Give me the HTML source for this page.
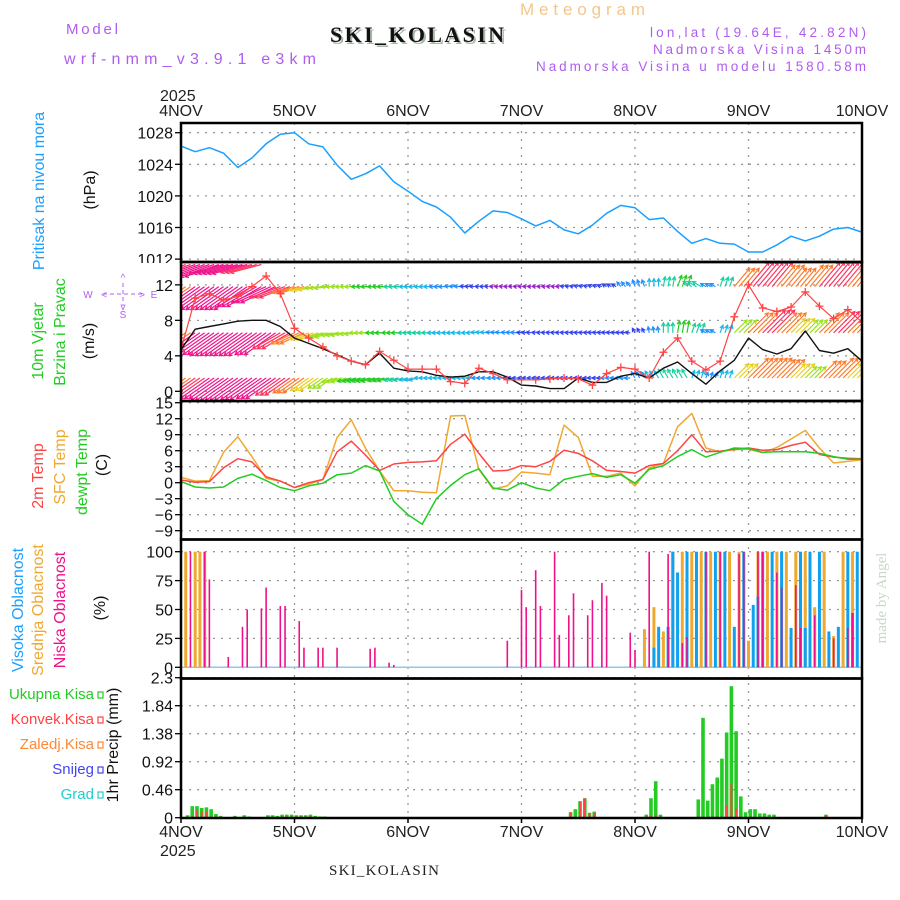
<!DOCTYPE html>
<html><head><meta charset="utf-8"><title>Meteogram SKI_KOLASIN</title>
<style>
html,body{margin:0;padding:0;background:#fff;}
svg{display:block;font-family:"Liberation Sans",sans-serif;}
</style></head>
<body>
<svg id="chart" width="900" height="900" viewBox="0 0 900 900" xmlns="http://www.w3.org/2000/svg">
<defs>
<clipPath id="cp1"><rect x="181" y="123" width="681" height="139"/></clipPath>
<clipPath id="cp2"><rect x="181" y="263" width="681" height="137"/></clipPath>
<clipPath id="cp3"><rect x="181" y="402" width="681" height="137"/></clipPath>
<clipPath id="cp4"><rect x="181" y="540" width="681" height="138"/></clipPath>
<clipPath id="cp5"><rect x="181" y="679" width="681" height="139"/></clipPath>
</defs>
<g id="header">
<text x="66" y="34" font-size="15" fill="#b05cf0" textLength="52">Model</text>
<text x="64" y="64" font-size="16" fill="#b05cf0" textLength="252">wrf-nmm_v3.9.1 e3km</text>
<text x="332" y="44" font-family="Liberation Serif,serif" font-weight="bold" font-size="22" fill="#aab8aa" textLength="174">SKI_KOLASIN</text>
<text x="330" y="42" font-family="Liberation Serif,serif" font-weight="bold" font-size="22" fill="#111" textLength="174">SKI_KOLASIN</text>
<text x="520" y="15" font-size="17" fill="#f2c88a" textLength="125">Meteogram</text>
<text x="650" y="37" font-size="13.5" fill="#b05cf0" textLength="216">lon,lat (19.64E, 42.82N)</text>
<text x="653" y="54" font-size="13.5" fill="#b05cf0" textLength="213">Nadmorska Visina 1450m</text>
<text x="536" y="71" font-size="13.5" fill="#b05cf0" textLength="330">Nadmorska Visina u modelu 1580.58m</text>
<text x="160" y="101" font-size="16" fill="#222">2025</text>
<text x="160" y="856" font-size="16" fill="#222">2025</text>
<text x="329" y="875" font-family="Liberation Serif,serif" font-size="15" fill="#222" textLength="110">SKI_KOLASIN</text>
<text transform="translate(886,598) rotate(-90)" text-anchor="middle" font-family="Liberation Serif,serif" font-size="15" fill="#c8d8c8">made by Angel</text>
</g>
<g id="labels" font-size="16">
<text transform="translate(44,191) rotate(-90)" text-anchor="middle" fill="#1a9fff">Pritisak na nivou mora</text>
<text transform="translate(95,190) rotate(-90)" text-anchor="middle" fill="#111">(hPa)</text>
<text transform="translate(43,341) rotate(-90)" text-anchor="middle" fill="#22cc22">10m Vjetar</text>
<text transform="translate(65,332) rotate(-90)" text-anchor="middle" fill="#22cc22">Brzina i Pravac</text>
<text transform="translate(94,341) rotate(-90)" text-anchor="middle" fill="#111">(m/s)</text>
<g font-size="10" fill="#b05cf0" text-anchor="middle">
<text x="123" y="270">N</text><text x="123" y="318">S</text><text x="88" y="298">W</text><text x="154" y="298">E</text>
<text x="123" y="281">^</text><text x="123" y="310">v</text>
<line x1="103" y1="294" x2="143" y2="294" stroke="#b05cf0" stroke-dasharray="4,3"/>
<line x1="123" y1="283" x2="123" y2="306" stroke="#b05cf0" stroke-dasharray="4,3"/>
<text x="104" y="298">&lt;</text><text x="142" y="298">&gt;</text>
</g>
<text transform="translate(43,476) rotate(-90)" text-anchor="middle" fill="#ff4444">2m Temp</text>
<text transform="translate(65,467) rotate(-90)" text-anchor="middle" fill="#f0a830">SFC Temp</text>
<text transform="translate(87,472) rotate(-90)" text-anchor="middle" fill="#22cc22">dewpt Temp</text>
<text transform="translate(107,465) rotate(-90)" text-anchor="middle" fill="#111">(C)</text>
<text transform="translate(23,610) rotate(-90)" text-anchor="middle" fill="#1a9fff">Visoka Oblacnost</text>
<text transform="translate(43,610) rotate(-90)" text-anchor="middle" fill="#f0a830">Srednja Oblacnost</text>
<text transform="translate(65,610) rotate(-90)" text-anchor="middle" fill="#ee1188">Niska Oblacnost</text>
<text transform="translate(105,608) rotate(-90)" text-anchor="middle" fill="#111">(%)</text>
<text transform="translate(118,745) rotate(-90)" text-anchor="middle" fill="#111">1hr Precip (mm)</text>
<g text-anchor="end" font-size="15">
<text x="94" y="699" fill="#22cc22">Ukupna Kisa</text>
<text x="94" y="724" fill="#ff4444">Konvek.Kisa</text>
<text x="94" y="749" fill="#ff8833">Zaledj.Kisa</text>
<text x="94" y="774" fill="#4444ee">Snijeg</text>
<text x="94" y="799" fill="#22cccc">Grad</text>
</g>
</g>
<g id="grid"></g>
<g id="marks"></g>
<g id="frames"></g>
</svg>
<script>
// ---------- DATA ----------
const dayLabels = ["4NOV","5NOV","6NOV","7NOV","8NOV","9NOV","10NOV"];
const pressureTicks = [1012,1016,1020,1024,1028];
const windTicks = [0,4,8,12];
const tempTicks = [15,12,9,6,3,0,-3,-6,-9];
const tempTickLabels = ["15","12","9","6","3","0","\u22123","\u22126","\u22129"];
const cloudTicks = [0,25,50,75,100];
const precipTicks = [0,0.46,0.92,1.38,1.84,2.3];
const precipTickLabels = ["0","0.46","0.92","1.38","1.84","2.3"];
// 3-hourly series (hour = index*3)
const pressure = [1026.3,1025.6,1026.1,1025.4,1023.6,1024.8,1026.6,1027.8,1028,1026.6,1026.2,1023.9,1022.1,1022.8,1023.8,1021.8,1020.6,1019.3,1018.6,1017.3,1015.3,1016.8,1018.1,1017.9,1017.1,1016.2,1016.9,1015.7,1015.2,1016.3,1017.8,1018.8,1018.5,1017.0,1017.2,1015.5,1014.0,1014.6,1014.0,1013.9,1012.9,1012.9,1013.8,1014.9,1014.3,1014.9,1015.8,1016.0,1015.4];
const windSpeed = [4.7,7.0,7.3,7.6,7.9,8.0,8.0,7.3,6.0,5.4,4.8,4.1,3.4,3.0,4.3,2.6,2.3,2.2,1.8,1.6,1.7,2.2,2.2,1.6,0.7,0.6,0.3,0.3,1.5,1.0,1.0,1.7,2.0,1.5,2.6,3.3,2.0,0.8,2.3,3.5,6.0,4.7,4.2,4.8,6.8,4.6,4.3,4.8,3.4];
const windGust = [4.7,10.5,11.0,10.3,10.7,11.8,13.0,11.0,7.1,6.0,5.0,4.0,3.4,3.0,4.5,3.5,2.5,2.5,2.5,1.1,0.9,2.6,2.0,1.3,1.3,1.3,1.4,1.5,1.4,0.7,2.0,2.7,2.5,1.5,4.4,6.0,3.4,2.4,3.4,8.4,12.0,9.4,9.0,9.5,11.2,9.6,8.2,9.2,7.8];
const temp2m = [0.5,0.1,0.2,2.8,4.5,3.9,1.1,0.3,-0.9,0.0,0.6,5.8,7.8,5.2,2.3,3.5,3.8,3.9,4.1,7.2,9.1,5.5,2.2,2.3,3.2,3.0,4.0,6.1,5.5,4.1,2.3,2.1,1.8,3.2,3.6,6.0,9.0,5.8,5.9,6.3,6.5,6.1,6.2,7.0,7.6,5.3,4.8,4.6,4.5];
const tempSfc = [1.0,0.3,0.4,5.7,8.6,4.9,0.8,0.3,-0.9,-0.3,0.6,8.5,11.8,6.5,2.2,-1.5,-1.5,-1.8,-1.9,12.5,12.6,2.5,-1.2,-0.6,2.0,1.8,1.5,10.8,8.5,1.2,1.2,1.8,-0.6,2.8,3.6,10.5,13.0,6.5,5.8,6.2,6.3,5.6,6.6,8.2,9.8,6.5,3.7,4.0,4.3];
const tempDew = [0.2,-0.8,-1.0,-0.8,0.8,1.6,0.4,-0.9,-1.5,-0.6,-0.1,1.5,1.8,3.2,2.2,-3.5,-6.0,-7.8,-3.0,-0.5,1.5,2.6,-1.0,-1.4,0.0,-1.0,-1.5,0.6,1.2,1.7,1.0,1.5,-0.1,2.5,3.2,4.9,6.2,4.8,5.7,6.5,6.4,5.7,5.8,5.8,5.8,5.5,4.9,4.4,4.4];
// wind vectors per level (3-hourly): speed m/s and direction the wind blows TO (deg, 0=E, 90=N)
const lvl1Speed = [6,8,9,10,10,9.5,9,7.5,6.5,5.5,4.5,4,3.5,3.5,3,2.5,2.2,2,2,2,2,1.8,1.5,1.2,1,1,1,1.2,1.2,1.3,1.5,1.5,1.8,2,2.5,2.5,2,1.5,2,5,7,7,6.5,5,4,6,7,5,4.5];
const lvl1Dir = [215,215,215,215,215,215,215,215,215,215,215,195,195,195,195,195,195,180,180,180,180,180,180,180,180,180,180,180,180,180,180,180,120,120,120,120,70,70,70,45,45,45,45,45,45,45,45,45,45];
const lvl2Speed = [7,9,9.5,10,10,10,9.5,8,6.5,5,4.5,4,4,4,3.5,3,2.5,2.5,2.3,2.2,2,2,1.8,1.5,1.2,1,1,1,1.1,1.2,1.3,1.3,1.3,1.5,2.5,3,2.5,1.5,2,4.5,7,8,7,5,4.5,7,7.5,6,5];
const lvl2Dir = [215,215,215,215,215,215,215,210,205,200,195,190,185,180,180,180,180,180,180,180,180,175,175,175,175,175,175,175,175,175,175,175,120,100,90,80,70,150,70,45,45,45,45,45,45,45,45,45,45];
const lvl3Speed = [7,9,10,10,10,10,9.5,8,6,5,4.5,4,4,3.5,3,2.5,2.2,2,1.8,1.5,1.2,1,0.9,0.9,0.9,0.9,0.9,1,1.1,1.2,1.3,1.5,1.8,2,2.5,3,2.5,1.5,2.5,6,8,8,7,6,7,8,8,6,5];
const lvl3Dir = [215,215,215,215,215,210,205,200,195,190,185,180,180,180,180,180,180,180,180,175,175,175,175,175,175,175,175,170,165,160,150,130,110,90,80,70,150,150,70,50,50,50,50,50,50,50,50,50,50];
const lvl4Speed = [8,9,9,9,9,8];
const lvl4Dir = [200,200,200,195,195,195];
// hourly cloud bars [hour, %]
const cloudLowHours = [2,5,6,10,13,14,17,18,21,22,25,26,29,30,33,40,41,44,45,69,72,73,75,76,79,80,82,83,86,87,89,90,95,96,99,103,106,107,111,114,118,119,122,123,126,127,130,131,134,138,141,142];
const cloudLowVals  = [100,100,76,9,35,50,51,69,53,53,40,17,17,17,17,16,17,4,2,23,67,52,84,53,100,28,45,64,45,58,73,62,30,15,100,98,21,26,100,100,98,100,100,100,82,69,71,34,45,25,34,47];
const cloudMidHours = [1,3,4,5,98,100,102,104,106,108,110,112,114,116,118,120,122,124,126,128,130,132,134,136,138,140,142];
const cloudMidVals  = [100,100,100,100,33,52,31,100,100,100,100,100,100,100,100,23,100,100,100,100,100,100,52,100,27,100,100];
const cloudHighHours = [100,101,103,104,105,107,109,111,113,115,117,119,121,122,123,125,127,129,131,132,133,135,137,139,141,142,143];
const cloudHighVals  = [17,35,35,100,82,100,100,100,100,100,35,100,54,61,100,100,100,34,100,34,100,100,31,35,100,47,100];
// hourly precipitation [hour, mm]
const precipHours = [1,2,3,4,5,6,7,8,11,13,14,18,19,20,21,22,23,24,25,26,27,28,29,30,82,83,84,85,86,87,98,99,100,101,109,110,111,112,113,114,115,116,117,118,119,120,121,122,123,124,125,136];
const precipTotal = [0.04,0.19,0.19,0.16,0.17,0.14,0.06,0.03,0.03,0.04,0.02,0.04,0.04,0.03,0.05,0.05,0.05,0.04,0.04,0.04,0.05,0.03,0.02,0.02,0.09,0.14,0.27,0.32,0.08,0.10,0.05,0.32,0.60,0.05,0.30,1.64,0.28,0.55,0.66,0.97,1.40,2.16,1.42,0.35,0.09,0.14,0.14,0.07,0.07,0.05,0.05,0.05];
const precipConv  = [0.01,0.02,0.12,0.10,0.10,0.02,0.02,0,0,0.01,0,0.01,0.01,0.01,0.02,0.02,0.02,0.02,0.02,0.02,0.02,0.01,0,0,0.09,0.02,0.27,0.32,0.08,0.08,0.02,0.03,0.05,0,0,0,0,0,0.02,0,0.20,0.55,0.15,0,0,0,0,0,0,0,0,0.04];

// ---------- AXES ----------
const NS = "http://www.w3.org/2000/svg";
const X0 = 181, X1 = 862;
const xH = h => X0 + h * (X1 - X0) / 144;
const yP = p => 132.7 + (1028 - p) * 7.9;
const yW = v => 391.3 - v * 8.87;
const yT = t => 482.7 - t * 5.333;
const yC = c => 667.3 - c * 1.156;
const yR = r => 817.7 - r * 60.87;
const panels = [[123,262],[262,401],[401,539.5],[539.5,678.5],[678.5,818]];

function mk(tag, attrs, parent) {
  const e = document.createElementNS(NS, tag);
  for (const k in attrs) e.setAttribute(k, attrs[k]);
  parent.appendChild(e);
  return e;
}
const grid = document.getElementById('grid');
const marks = document.getElementById('marks');
const frames = document.getElementById('frames');
const svg = document.getElementById('chart');

// vertical day grid + labels
dayLabels.forEach((d, i) => {
  const x = xH(i * 24);
  if (i > 0 && i < 6) {
    const l = mk('line', {x1:x, y1:123, x2:x, y2:818, stroke:'#999', 'stroke-width':1.3, 'stroke-dasharray':'2,6'}, grid);
    
    
  }
  const t1 = mk('text', {x:x, y:116, 'text-anchor':'middle', 'font-size':16, fill:'#222'}, grid);
  t1.textContent = d;
  
  
  const t2 = mk('text', {x:x, y:837, 'text-anchor':'middle', 'font-size':16, fill:'#222'}, grid);
  t2.textContent = d;
  
  
  const tk = mk('line', {x1:x, y1:818, x2:x, y2:823, stroke:'#000', 'stroke-width':1.5}, grid);
  
  
});

function yAxis(ticks, labels, yf, name) {
  ticks.forEach((v, i) => {
    const y = yf(v);
    const g = mk('line', {x1:X0, y1:y, x2:X1, y2:y, stroke:'#999', 'stroke-width':1.3, 'stroke-dasharray':'2,6'}, grid);
    
    
    const tk = mk('line', {x1:X0 - 6, y1:y, x2:X0, y2:y, stroke:'#000', 'stroke-width':1.3}, grid);
    
    
    const t = mk('text', {x:X0 - 8, y:y + 6, 'text-anchor':'end', 'font-size':16, fill:'#111'}, grid);
    t.textContent = labels[i];
    
    
  });
}
yAxis(pressureTicks, pressureTicks.map(String), yP, 'pressure');
const cover = mk('rect', {x:110, y:263, width:68, height:7, fill:'#fff'}, grid);


yAxis(windTicks, windTicks.map(String), yW, 'wind');
yAxis(tempTicks, tempTickLabels, yT, 'temp');
yAxis(cloudTicks, cloudTicks.map(String), yC, 'cloud');
yAxis(precipTicks, precipTickLabels, yR, 'precip');

// legend squares
['#22cc22','#ff4444','#ff8833','#4444ee','#22cccc'].forEach((c, i) => {
  const r = mk('rect', {x:98, y:692 + i * 25, width:5, height:6, fill:'none', stroke:c, 'stroke-width':1.2}, grid);
  
  
});

function polyline(vals, yf, color, w, clip, name) {
  const pts = vals.map((v, i) => xH(i * 3).toFixed(1) + ',' + yf(v).toFixed(1)).join(' ');
  const p = mk('polyline', {points:pts, fill:'none', stroke:color, 'stroke-width':w, 'stroke-linejoin':'round', 'clip-path':'url(#' + clip + ')'}, marks);
  
  
  return p;
}

// pressure
polyline(pressure, yP, '#1a9fff', 1.5, 'cp1', 'pressure-line');

// wind arrows
function spdColor(s) {
  if (s >= 9) return '#f0148c';
  if (s >= 7.5) return '#ff3360';
  if (s >= 6) return '#ff7a2a';
  if (s >= 5) return '#e8d020';
  if (s >= 4) return '#9be21c';
  if (s >= 3) return '#22cc22';
  if (s >= 2.5) return '#19d0a0';
  if (s >= 2) return '#1ab8e8';
  if (s >= 1.5) return '#2090ff';
  if (s >= 1) return '#3344ee';
  return '#9922cc';
}
const windG = mk('g', {'clip-path':'url(#cp2)'}, marks);


function drawLevel(speeds, dirs, baseVal, name) {
  const by = yW(baseVal);
  const K = 4;
  const nh = speeds.length * 3;
  for (let h = 0; h < Math.min(nh, 144); h++) {
    const i = Math.floor(h / 3);
    const s = speeds[i], a = dirs[i] * Math.PI / 180;
    const x = xH(h);
    const dx = Math.cos(a) * s * K, dy = -Math.sin(a) * s * K;
    const hx = x + dx, hy = by + dy;
    const c = spdColor(s);
    const ang = Math.atan2(dy, dx);
    const d = 'M' + x.toFixed(1) + ',' + by.toFixed(1) + 'L' + hx.toFixed(1) + ',' + hy.toFixed(1) +
      'M' + (hx - 4 * Math.cos(ang - 0.5)).toFixed(1) + ',' + (hy - 4 * Math.sin(ang - 0.5)).toFixed(1) + 'L' + hx.toFixed(1) + ',' + hy.toFixed(1) +
      'L' + (hx - 4 * Math.cos(ang + 0.5)).toFixed(1) + ',' + (hy - 4 * Math.sin(ang + 0.5)).toFixed(1);
    const p = mk('path', {d:d, stroke:c, 'stroke-width':1.2, fill:'none'}, windG);
    
    
  }
}
drawLevel(lvl1Speed, lvl1Dir, 1.5, 'wind-level-1');
drawLevel(lvl2Speed, lvl2Dir, 6.6, 'wind-level-2');
drawLevel(lvl3Speed, lvl3Dir, 11.8, 'wind-level-3');
drawLevel(lvl4Speed, lvl4Dir, 14.3, 'wind-level-4');

polyline(windSpeed, yW, '#111', 1.4, 'cp2', 'wind-speed-line');
polyline(windGust, yW, '#ff4444', 1.2, 'cp2', 'wind-gust-line');
windGust.forEach((v, i) => {
  const x = xH(i * 3), y = yW(v);
  const p = mk('path', {d:'M' + (x - 4) + ',' + y + 'h8M' + x + ',' + (y - 4) + 'v8', stroke:'#ff4444', 'stroke-width':1.3, 'clip-path':'url(#cp2)'}, marks);
  
  
});

// temperatures
polyline(tempSfc, yT, '#f0a830', 1.5, 'cp3', 'sfc-temp-line');
polyline(temp2m, yT, '#ff4444', 1.5, 'cp3', 'temp-2m-line');
polyline(tempDew, yT, '#22cc22', 1.5, 'cp3', 'dewpt-temp-line');

// clouds
const base0 = yC(0);
const bl = mk('line', {x1:X0, y1:base0, x2:X1, y2:base0, stroke:'#8fc8e8', 'stroke-width':1.5}, marks);


function cloudBars(hours, vals, color, w, off, name) {
  hours.forEach((h, i) => {
    const y = yC(vals[i]);
    const r = mk('rect', {x:xH(h) + off, y:y, width:w, height:base0 - y, fill:color, 'clip-path':'url(#cp4)'}, marks);
    
    
  });
}
cloudBars(cloudMidHours, cloudMidVals, '#eeaa30', 3, -1.5, 'cloud-mid-bar');
cloudBars(cloudHighHours, cloudHighVals, '#10a0f0', 3, -1.5, 'cloud-high-bar');
cloudBars(cloudLowHours, cloudLowVals, '#ee1188', 1.6, -0.8, 'cloud-low-bar');

// precipitation
precipHours.forEach((h, i) => {
  const x = xH(h);
  const y = yR(precipTotal[i]);
  const r = mk('rect', {x:x, y:y, width:3.6, height:yR(0) - y, fill:'#22cc22'}, marks);
  
  
  if (precipConv[i] > 0) {
    const yc = yR(precipConv[i]);
    const rc = mk('rect', {x:x + 0.8, y:yc, width:2, height:yR(0) - yc, fill:'#ff4444'}, marks);
    
    
  }
});

// frames
panels.forEach((p, i) => {
  const r = mk('rect', {x:X0, y:p[0], width:X1 - X0, height:p[1] - p[0], fill:'none', stroke:'#000', 'stroke-width':2.5}, frames);
  
  
});
</script>
</body></html>
